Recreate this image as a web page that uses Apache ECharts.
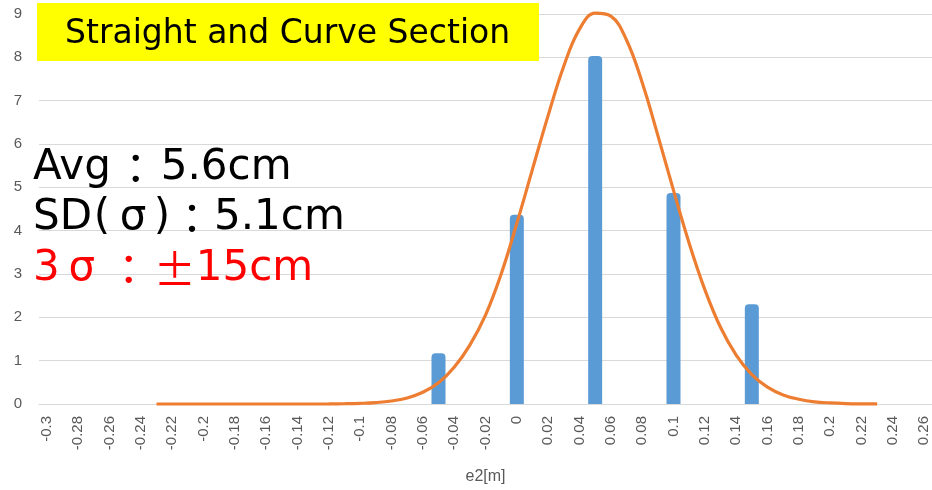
<!DOCTYPE html>
<html>
<head>
<meta charset="utf-8">
<script src="https://cdn.jsdelivr.net/npm/echarts@6/dist/echarts.min.js"></script>
<style>
  html, body { margin: 0; padding: 0; background: #fff; }
  #chart { width: 932px; height: 490px; }
</style>
</head>
<body>
<div id="chart"></div>
<script>
// Error classes of e2 [m], one category per centimetre
const categories = [
  '-0.3','-0.29','-0.28','-0.27','-0.26','-0.25','-0.24','-0.23','-0.22','-0.21',
  '-0.2','-0.19','-0.18','-0.17','-0.16','-0.15','-0.14','-0.13','-0.12','-0.11',
  '-0.1','-0.09','-0.08','-0.07','-0.06','-0.05','-0.04','-0.03','-0.02','-0.01',
  '0','0.01','0.02','0.03','0.04','0.05','0.06','0.07','0.08','0.09',
  '0.1','0.11','0.12','0.13','0.14','0.15','0.16','0.17','0.18','0.19',
  '0.2','0.21','0.22','0.23','0.24','0.25','0.26'
];

// Histogram bars
const barClasses = ['-0.05', '0', '0.05', '0.1', '0.15'];
const barValues  = [1.17, 4.37, 8.03, 4.87, 2.30];

// Fitted distribution curve
const curveClasses = [
  '-0.23','-0.22','-0.21','-0.2','-0.19','-0.18','-0.17','-0.16','-0.15','-0.14',
  '-0.13','-0.12','-0.11','-0.1','-0.09','-0.08','-0.07','-0.06','-0.05','-0.04',
  '-0.03','-0.02','-0.01','0','0.01','0.02','0.03','0.04','0.05','0.06',
  '0.07','0.08','0.09','0.1','0.11','0.12','0.13','0.14','0.15','0.16',
  '0.17','0.18','0.19','0.2','0.21','0.22','0.23'
];
const curveValues = [
  0, 0, 0, 0, 0, 0, 0, 0, 0, 0,
  0, 0.002, 0.006, 0.015, 0.033, 0.07, 0.14, 0.27, 0.49, 0.85,
  1.36, 2.05, 3.0, 4.17, 5.42, 6.66, 7.8, 8.65, 9.02, 8.95,
  8.4, 7.42, 6.2, 4.93, 3.71, 2.64, 1.77, 1.13, 0.68, 0.39,
  0.21, 0.11, 0.05, 0.024, 0.01, 0.004, 0.002
];

// Y-axis ticks
const yMin = 0, yMax = 9, yStep = 1;

// Annotation texts (rich-text markup: s = sigma, c = colon, p/q = parens, pm = plus-minus)
const titleText = 'Straight and Curve Section';
const statLines = [
  'Avg{c|：}5.6cm',
  'SD{p|(}{s|σ}{q|)}{c2|：}5.1cm',
  '3{s3|σ}{c|：}{pm|±}15cm'
];

const tickFont = 'Liberation Sans';
const latinFont = '"DejaVu Sans", sans-serif';
const jpFont = '"Noto Sans CJK JP", "Noto Sans", sans-serif';

function token(width, family) {
  return { width: width, align: 'center', fontSize: 42, fontFamily: family || latinFont };
}
const statRich = {
  c: token(50, jpFont),
  c2: token(44, jpFont),
  p: token(20),
  q: token(16),
  s: token(42),
  s3: token(44),
  pm: token(42, jpFont)
};

const chart = echarts.init(document.getElementById('chart'), null, { renderer: 'canvas' });

chart.setOption({
  animation: false,
  backgroundColor: '#ffffff',
  grid: { left: 39, right: 0, top: 14, bottom: 84, containLabel: false },
  xAxis: {
    type: 'category',
    data: categories,
    boundaryGap: true,
    name: 'e2[m]',
    nameLocation: 'middle',
    nameGap: 65,
    nameTextStyle: { color: '#595959', fontSize: 16, fontFamily: tickFont },
    axisLine: { show: true, lineStyle: { color: '#d9d9d9', width: 1 } },
    axisTick: { show: false },
    axisLabel: {
      interval: 1,
      rotate: 90,
      margin: 12,
      color: '#595959',
      fontSize: 15,
      fontFamily: tickFont
    },
    splitLine: { show: false }
  },
  yAxis: {
    type: 'value',
    min: yMin,
    max: yMax,
    interval: yStep,
    axisLine: { show: false },
    axisTick: { show: false },
    axisLabel: { color: '#595959', fontSize: 15, fontFamily: tickFont, margin: 17 },
    splitLine: { show: true, lineStyle: { color: '#d9d9d9', width: 1 } }
  },
  series: [
    {
      type: 'bar',
      data: barClasses.map((c, i) => [c, barValues[i]]),
      barWidth: 14,
      itemStyle: { color: '#5b9bd5', borderRadius: [4, 4, 0, 0] },
      z: 2
    },
    {
      type: 'line',
      data: curveClasses.map((c, i) => [c, curveValues[i]]),
      smooth: 0.4,
      showSymbol: false,
      clip: false,
      lineStyle: { color: '#ed7d31', width: 3.2 },
      z: 3
    }
  ],
  graphic: [
    {
      type: 'rect',
      shape: { x: 37, y: 3, width: 502, height: 58 },
      style: { fill: '#ffff00' },
      z: 10
    },
    {
      type: 'text',
      x: 65, y: 34,
      style: {
        text: titleText,
        fill: '#000000',
        font: '33px ' + latinFont,
        textVerticalAlign: 'middle'
      },
      z: 11
    },
    {
      type: 'text',
      x: 33, y: 168,
      style: { text: statLines[0], fill: '#000000', fontSize: 42, fontFamily: latinFont, verticalAlign: 'middle', rich: statRich },
      z: 11
    },
    {
      type: 'text',
      x: 33, y: 218,
      style: { text: statLines[1], fill: '#000000', fontSize: 42, fontFamily: latinFont, verticalAlign: 'middle', rich: statRich },
      z: 11
    },
    {
      type: 'text',
      x: 33, y: 269,
      style: { text: statLines[2], fill: '#ff0000', fontSize: 42, fontFamily: latinFont, verticalAlign: 'middle', rich: statRich },
      z: 11
    }
  ]
});
</script>
</body>
</html>
